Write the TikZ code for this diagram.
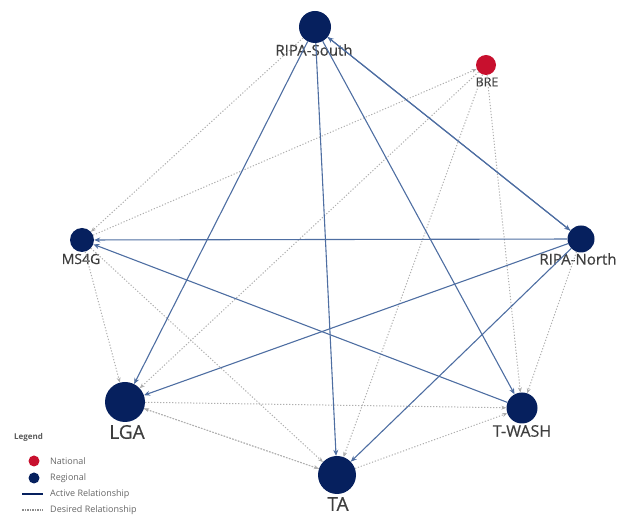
\documentclass[tikz,border=0pt]{standalone}
\usepackage{fontspec}
\setmainfont{Open Sans}
\newfontfamily\lblfont[FakeBold=0.5]{Open Sans}
\usetikzlibrary{arrows.meta}

\definecolor{navy}{RGB}{6,32,94}
\definecolor{natred}{RGB}{200,16,46}
\definecolor{actblue}{RGB}{78,110,162}
\definecolor{desgray}{RGB}{175,175,175}
\definecolor{lbltext}{RGB}{62,62,62}

\tikzset{
    regional/.style={circle, fill=navy, inner sep=0pt},
    national/.style={circle, fill=natred, inner sep=0pt},
    nlabel/.style={text=lbltext, inner sep=0pt},
    active/.style={draw=actblue, line width=1.1pt, -{Stealth[length=6pt,width=5pt]}},
    desired/.style={draw=desgray, line width=1pt, dash pattern=on 1.2pt off 1.8pt, -{Stealth[length=5pt,width=4pt]}},
    legtext/.style={text=black!60, font=\fontsize{9}{10}\selectfont, anchor=west, inner sep=0pt},
}

\newcommand{\rn}[2]{\node[regional, minimum size=#2pt] (#1)}
\newcommand{\bre}{\node[national, minimum size=20pt]}

\begin{document}
\begin{tikzpicture}[x=1pt, y=-1pt]
        \useasboundingbox (0,0) rectangle (625,518);

        % the two RIPA nodes and BRE
        \rn{rsouth}{32} at (315,27) {};
        \bre (bre) at (486,65) {};
        \rn{rnorth}{27} at (581,239) {};
        \rn{ms4g}{24} at (82,240) {};
        \rn{lga}{40} at (125,402) {};
        \rn{twash}{31} at (522,408) {};
        \rn{ta}{38} at (337,475) {};

        % labels
        \node[nlabel, font=\lblfont\fontsize{15}{16}\selectfont] (rsouthlbl) at (314,50) {RIPA-South};
        \node[nlabel, font=\lblfont\fontsize{12.5}{13}\selectfont] (brelbl) at (487,82) {BRE};
        \node[nlabel, font=\lblfont\fontsize{15}{16}\selectfont] (rnorthlbl) at (578,259) {RIPA-North};
        \node[nlabel, font=\lblfont\fontsize{14}{15}\selectfont] (ms4glbl) at (81,259) {MS4G};
        \node[nlabel, font=\lblfont\fontsize{19}{20}\selectfont] (lgalbl) at (127,432) {LGA};
        \node[nlabel, font=\lblfont\fontsize{16}{17}\selectfont] (twashlbl) at (522,431) {T-WASH};
        \node[nlabel, font=\lblfont\fontsize{19}{20}\selectfont] (talbl) at (338,504) {TA};

        \path[desired]
            (rsouth) edge (ms4g)
            (ms4g) edge (bre)
            (bre) edge (lga)
            (bre) edge (ta)
            (bre) edge (twash)
            (rnorth) edge (twash)
            (ms4g) edge (lga)
            (ms4g) edge (ta)
            (lga) edge (ta)
            (ta) edge (lga)
            (lga) edge (twash)
            (ta) edge (twash)
            ;

        \path[active]
            (rsouth) edge (lga)
            (rsouth) edge (ta)
            (rsouth) edge (twash)
            (rsouth) edge (rnorth)
            (rnorth) edge (rsouth)
            (rnorth) edge (ms4g)
            (rnorth) edge (lga)
            (rnorth) edge (ta)
            (twash) edge (ms4g)
            ;

        % legend
        \node[text=black!65, font=\bfseries\fontsize{8}{9}\selectfont, anchor=west, inner sep=0pt] (leg) at (14,437) {Legend};
        \node[national, minimum size=11pt] (legnat) at (34,461) {};
        \node[regional, minimum size=11pt] (legreg) at (34,478) {};
        \coordinate (actl) at (22,494);
        \coordinate (actr) at (43,494);
        \coordinate (desl) at (22,510);
        \coordinate (desr) at (43,510);
        \draw[navy, line width=2pt] (actl) -- (actr);
        \draw[desgray!80!black, line width=2.5pt, dash pattern=on 1.5pt off 1pt] (desl) -- (desr);
        \node[legtext] (lnat) at (50,461) {National};
        \node[legtext] (lreg) at (50,478) {Regional};
        \node[legtext] (lact) at (50,494) {Active Relationship};
        \node[legtext] (ldes) at (50,510) {Desired Relationship};
    \end{tikzpicture}
\end{document}
